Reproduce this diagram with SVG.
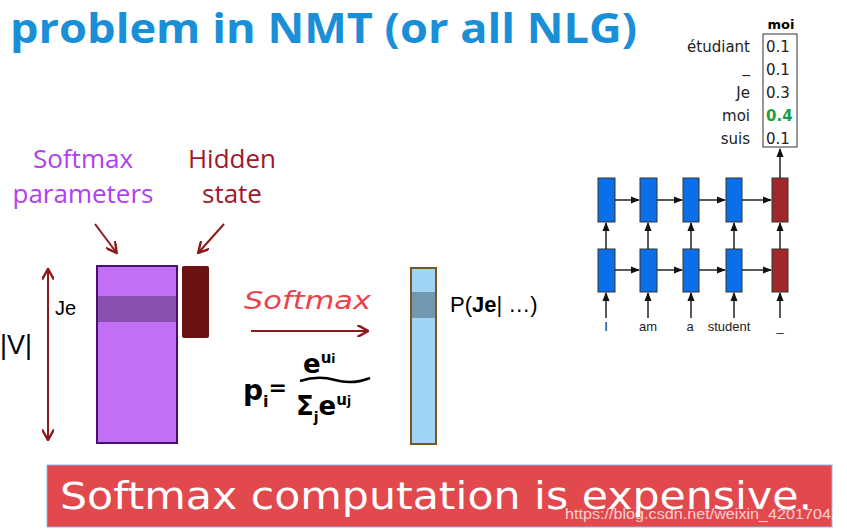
<svg xmlns="http://www.w3.org/2000/svg" width="847" height="531" viewBox="0 0 847 531">
<defs>
<style>
.t{font-family:"Open Sans","Liberation Sans",sans-serif}
.s{font-family:"Liberation Sans",Arial,sans-serif}
.d{font-family:"DejaVu Sans",sans-serif}
.cell{fill:#0a6fe8;stroke:#333;stroke-width:1}
.rcell{fill:#a0282a;stroke:#333;stroke-width:1}
.ln{stroke:#222;stroke-width:1.5;fill:none}
.dr{stroke:#8b1a1a;stroke-width:2;fill:none}
</style>
<marker id="ah" viewBox="0 0 10 10" refX="9" refY="5" markerWidth="6" markerHeight="6" orient="auto"><path d="M0,1 L10,5 L0,9 z" fill="#111"/></marker>
<marker id="rh" viewBox="0 0 10 10" refX="8" refY="5" markerWidth="6" markerHeight="6" orient="auto-start-reverse"><path d="M0,0 L9,5 L0,10" fill="none" stroke="#8b1a1a" stroke-width="2"/></marker>
</defs>
<rect width="847" height="531" fill="#fff"/>

<g id="title"><text class="t" x="10" y="43" font-size="42" font-weight="bold" fill="#1a8fd8" textLength="627" lengthAdjust="spacingAndGlyphs">problem in NMT (or all NLG)</text></g>

<g id="labels">
<text class="t" x="83" y="168" font-size="26" fill="#b040f0" text-anchor="middle">Softmax</text>
<text class="t" x="83" y="203" font-size="26" fill="#b040f0" text-anchor="middle">parameters</text>
<text class="t" x="232" y="168" font-size="26" fill="#a0182a" text-anchor="middle">Hidden</text>
<text class="t" x="232" y="203" font-size="26" fill="#a0182a" text-anchor="middle">state</text>
</g>

<g id="softmax-matrix">
<rect x="97" y="266" width="80" height="177" fill="#c170f5" stroke="#4a0f72" stroke-width="2"/>
<rect x="98" y="296" width="78" height="26" fill="#8c50b0"/>
<text class="s" x="55" y="315" font-size="20" fill="#000">Je</text>
<text class="s" x="0" y="354" font-size="27" fill="#000">|V|</text>
</g>

<g id="hidden-state"><rect x="182" y="266" width="27" height="72" rx="2" fill="#6b1212"/></g>

<g id="output-vector">
<rect x="411" y="268" width="25" height="176" fill="#a0d4f4" stroke="#7a5620" stroke-width="2"/>
<rect x="412" y="292" width="23" height="26" fill="#7098b0"/>
<text class="s" x="450" y="312" font-size="22" fill="#000">P(<tspan font-weight="bold">Je</tspan>| …)</text>
</g>

<g id="formula">
<text class="d" x="244" y="309" font-size="25" fill="#f0404a" font-style="italic" textLength="127" lengthAdjust="spacingAndGlyphs">Softmax</text>
<text class="d" x="243" y="400" font-size="28" fill="#000" font-weight="bold">p<tspan font-size="16" dy="7">i</tspan><tspan dy="-12" font-size="22">=</tspan></text>
<text class="d" x="303" y="373" font-size="26" fill="#000" font-weight="bold">e<tspan font-size="15" dy="-10">u</tspan><tspan font-size="12">i</tspan></text>
<path d="M300,381 Q318,375 335,380 T370,378" stroke="#000" stroke-width="2.5" fill="none"/>
<text class="d" x="296" y="415" font-size="26" fill="#000" font-weight="bold">Σ<tspan font-size="14" dy="7">j</tspan><tspan dy="-7">e</tspan><tspan font-size="15" dy="-10">u</tspan><tspan font-size="12">j</tspan></text>
</g>

<g id="rnn">
<text class="d" x="781" y="29" font-size="13" font-weight="bold" text-anchor="middle" fill="#000">moi</text>
<rect x="763" y="34" width="34" height="113" fill="#fff" stroke="#333" stroke-width="1"/>
<g class="d" font-size="15" fill="#222">
<text x="766" y="52">0.1</text>
<text x="766" y="75">0.1</text>
<text x="766" y="98">0.3</text>
<text x="766" y="121" fill="#1aa040" font-weight="bold">0.4</text>
<text x="766" y="144">0.1</text>
</g>
<g class="d" font-size="15" fill="#222" text-anchor="end">
<text x="750" y="52">étudiant</text>
<text x="750" y="72">_</text>
<text x="750" y="98">Je</text>
<text x="750" y="121">moi</text>
<text x="750" y="144">suis</text>
</g>
<rect class="cell" x="598" y="178" width="17" height="44"/>
<rect class="cell" x="640" y="178" width="17" height="44"/>
<rect class="cell" x="683" y="178" width="16" height="44"/>
<rect class="cell" x="726" y="178" width="16" height="44"/>
<rect class="rcell" x="772" y="178" width="16" height="44"/>
<rect class="cell" x="598" y="249" width="17" height="43"/>
<rect class="cell" x="640" y="249" width="17" height="43"/>
<rect class="cell" x="683" y="249" width="16" height="43"/>
<rect class="cell" x="726" y="249" width="16" height="43"/>
<rect class="rcell" x="772" y="249" width="16" height="43"/>
<g class="s" font-size="13" fill="#222" text-anchor="middle">
<text x="606" y="331">I</text>
<text x="648" y="331">am</text>
<text x="690" y="331">a</text>
<text x="729" y="331">student</text>
<text x="780" y="331">_</text>
</g>
</g>

<g id="connectors">
<line class="dr" x1="95" y1="224" x2="116" y2="252" marker-end="url(#rh)"/>
<line class="dr" x1="224" y1="224" x2="199" y2="252" marker-end="url(#rh)"/>
<line class="dr" x1="48" y1="270" x2="48" y2="439" marker-start="url(#rh)" marker-end="url(#rh)"/>
<line class="dr" x1="251" y1="331" x2="367" y2="331" marker-end="url(#rh)"/>
<g class="ln">
<line x1="780" y1="178" x2="780" y2="149" marker-end="url(#ah)"/>
<line x1="615" y1="200" x2="639" y2="200" marker-end="url(#ah)"/>
<line x1="657" y1="200" x2="682" y2="200" marker-end="url(#ah)"/>
<line x1="699" y1="200" x2="725" y2="200" marker-end="url(#ah)"/>
<line x1="742" y1="200" x2="771" y2="200" marker-end="url(#ah)"/>
<line x1="615" y1="270" x2="639" y2="270" marker-end="url(#ah)"/>
<line x1="657" y1="270" x2="682" y2="270" marker-end="url(#ah)"/>
<line x1="699" y1="270" x2="725" y2="270" marker-end="url(#ah)"/>
<line x1="742" y1="270" x2="771" y2="270" marker-end="url(#ah)"/>
<line x1="606" y1="249" x2="606" y2="223" marker-end="url(#ah)"/>
<line x1="648" y1="249" x2="648" y2="223" marker-end="url(#ah)"/>
<line x1="691" y1="249" x2="691" y2="223" marker-end="url(#ah)"/>
<line x1="734" y1="249" x2="734" y2="223" marker-end="url(#ah)"/>
<line x1="780" y1="249" x2="780" y2="223" marker-end="url(#ah)"/>
<line x1="606" y1="318" x2="606" y2="293" marker-end="url(#ah)"/>
<line x1="648" y1="318" x2="648" y2="293" marker-end="url(#ah)"/>
<line x1="691" y1="318" x2="691" y2="293" marker-end="url(#ah)"/>
<line x1="734" y1="318" x2="734" y2="293" marker-end="url(#ah)"/>
<line x1="780" y1="318" x2="780" y2="293" marker-end="url(#ah)"/>
</g>
</g>

<g id="banner">
<rect x="47" y="465" width="785" height="62" fill="#e2494d" stroke="#8fb4e8" stroke-width="1"/>
<text class="d" x="60" y="509" font-size="37" fill="#fff" textLength="752" lengthAdjust="spacingAndGlyphs">Softmax computation is expensive.</text>
<text class="s" x="565" y="519" font-size="14" fill="#fff" fill-opacity="0.75" textLength="275" lengthAdjust="spacingAndGlyphs">https://blog.csdn.net/weixin_42017042</text>
</g>
</svg>
